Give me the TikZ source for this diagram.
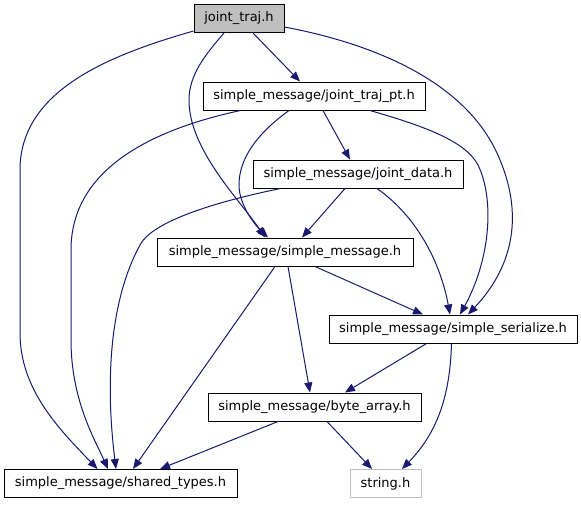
\documentclass[tikz,border=0pt]{standalone}
\usepackage{fontspec}
\setmainfont{DejaVu Sans}
\usetikzlibrary{arrows.meta}
\definecolor{edgeblue}{HTML}{191970}
\definecolor{grey75}{HTML}{BFBFBF}
\tikzset{
  filebox/.style={draw=black, line width=1pt, fill=white, inner sep=0pt, minimum height=28pt,
    font=\fontsize{13}{15}\selectfont},
  mainbox/.style={filebox, fill=grey75},
  sysbox/.style={filebox, draw=grey75},
  dep/.style={draw=edgeblue, line width=1pt, -{Triangle[length=10pt,width=8pt]}, fill=none}
}
\begin{document}
\begin{tikzpicture}[x=1pt, y=-1pt]
\useasboundingbox (0,0) rectangle (581,504);
\fill[white] (0,0) rectangle (581,504);
% nodes
\node[mainbox, minimum width=90pt]  (jt) at (239,18.5) {joint\_traj.h};
\node[filebox, minimum width=222pt] (pt) at (314,96) {simple\_message/joint\_traj\_pt.h};
\node[filebox, minimum width=210pt] (jd) at (358,174) {simple\_message/joint\_data.h};
\node[filebox, minimum width=256pt] (sm) at (285,252) {simple\_message/simple\_message.h};
\node[filebox, minimum width=248pt] (ss) at (453,329) {simple\_message/simple\_serialize.h};
\node[filebox, minimum width=213pt] (ba) at (314.5,407) {simple\_message/byte\_array.h};
\node[filebox, minimum width=233pt] (st) at (120.5,483.5) {simple\_message/shared\_types.h};
\node[sysbox, minimum width=71pt]   (sh) at (385.5,483.5) {string.h};
% edges
\path[dep] ([yshift=2pt]jt.south west) .. controls (110,55) and (20,90) .. (20,170) -- (20,333)
   .. controls (20,390) and (60,430) .. ([xshift=-23pt]st.north);
\path[dep] ([xshift=14pt]jt.south) -- ([xshift=-14pt]pt.north);
\path[dep] ([xshift=-15pt]jt.south) .. controls (205,55) and (189,75) .. (189,100)
   .. controls (189,150) and (240,200) .. ([xshift=-20pt]sm.north);
\path[dep] ([yshift=-8.5pt]jt.east) .. controls (380,45) and (470,85) .. (500,160)
   .. controls (525,220) and (510,270) .. ([xshift=15pt]ss.north);
\path[dep] ([xshift=38pt]pt.south west) .. controls (150,130) and (71,170) .. (71,250) -- (71,340)
   .. controls (71,400) and (95,440) .. ([xshift=-12.5pt]st.north);
\path[dep] ([xshift=-25pt]pt.south) .. controls (255,135) and (239,160) .. (239,185)
   .. controls (239,205) and (255,225) .. ([xshift=-17pt]sm.north);
\path[dep] ([xshift=9pt]pt.south) -- ([xshift=-8pt]jd.north);
\path[dep] ([xshift=56pt]pt.south) .. controls (420,125) and (465,140) .. (478,165)
   .. controls (495,200) and (490,260) .. ([xshift=7pt]ss.north);
\path[dep] ([xshift=28pt]jd.south west) .. controls (200,205) and (150,225) .. (140,245)
   .. controls (110,300) and (105,380) .. ([xshift=-4.5pt]st.north);
\path[dep] ([xshift=-13pt]jd.south) -- ([xshift=17pt]sm.north);
\path[dep] ([xshift=19pt]jd.south) .. controls (415,215) and (440,260) .. ([xshift=-3pt]ss.north);
\path[dep] ([xshift=30pt]sm.south) -- ([xshift=-30pt]ss.north);
\path[dep] ([xshift=3pt]sm.south) -- ([xshift=-4.5pt]ba.north);
\path[dep] ([xshift=-10pt]sm.south) -- ([xshift=12.5pt]st.north);
\path[dep] ([xshift=-26.5pt]ss.south) -- ([xshift=30.5pt]ba.north);
\path[dep] ([xshift=-1.5pt]ss.south) .. controls (450,400) and (435,435) .. ([xshift=16.5pt]sh.north);
\path[dep] ([xshift=-36.5pt]ba.south) -- ([xshift=39.5pt]st.north);
\path[dep] ([xshift=12.5pt]ba.south) -- ([xshift=-13.5pt]sh.north);
\end{tikzpicture}
\end{document}
